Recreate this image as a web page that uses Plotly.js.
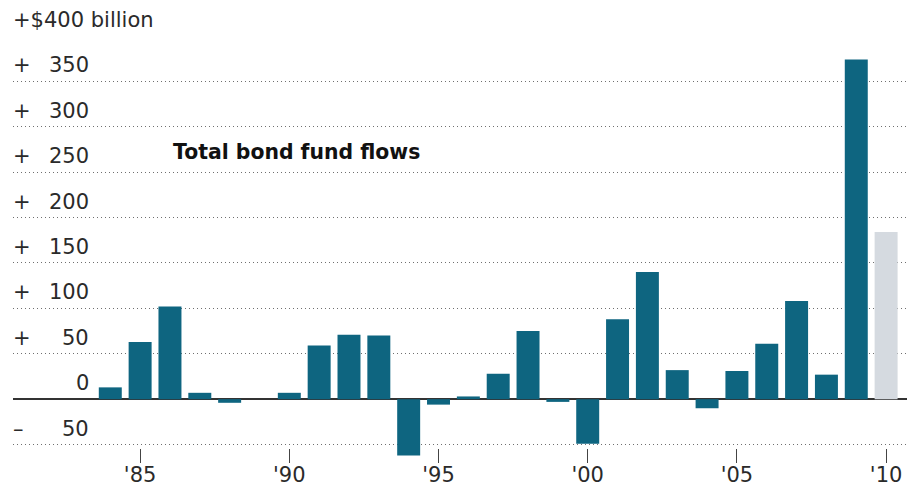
<!DOCTYPE html>
<html>
<head>
<meta charset="utf-8">
<script src="https://cdn.plot.ly/plotly-3.0.1.min.js"></script>
<style>
  html, body { margin: 0; padding: 0; background: #ffffff; }
  #chart { width: 907px; height: 488px; }
</style>
</head>
<body>
<div id="chart"></div>
<script>
// ---- Data ----
var years = [1984, 1985, 1986, 1987, 1988, 1989, 1990, 1991, 1992, 1993, 1994, 1995, 1996, 1997,
             1998, 1999, 2000, 2001, 2002, 2003, 2004, 2005, 2006, 2007, 2008, 2009, 2010];
var flows = [13, 63, 102, 7, -4, 0, 7, 59, 71, 70, -62, -6, 3, 28,
             75, -3, -49, 88, 140, 32, -10, 31, 61, 108, 27, 374, 184];
var partialYear = 2010;

var xTickVals = [1985, 1990, 1995, 2000, 2005, 2010];
var xTickText = ["'85", "'90", "'95", "'00", "'05", "'10"];

var yTickVals = [-50, 0, 50, 100, 150, 200, 250, 300, 350, 400];
var yTickText = ["50", "0", "50", "100", "150", "200", "250", "300", "350", "+$400 billion"];
var chartLabel = "Total bond fund flows";

// ---- Styles ----
var barColor = "#0e6580";
var partialColor = "#d5dae0";
var textColor = "#2a2a2a";
var fontFamily = "DejaVu Sans, Verdana, sans-serif";
var labelSize = 21;

var colors = years.map(function (y) { return y === partialYear ? partialColor : barColor; });

var W = 907, H = 488, L = 13, R = 0, T = 36, B = 28;
var plotW = W - L - R;
var plotH = H - T - B;
var yMin = -67, yMax = 400;
var numX = (91 - L) / plotW;
var xAxisAt = -54;   // value where the x tick marks start
var xAxisPos = (xAxisAt - yMin) / (yMax - yMin);

var annotations = [];
var topVal = yTickVals[yTickVals.length - 1];
yTickVals.forEach(function (v, i) {
  if (v === topVal) {
    annotations.push({
      xref: "paper", yref: "y", x: 0, y: v, xanchor: "left", yanchor: "bottom",
      xshift: -2, yshift: 2, showarrow: false, text: yTickText[i],
      font: { family: fontFamily, size: labelSize, color: textColor }
    });
    return;
  }
  var sign = v > 0 ? "+" : (v < 0 ? "\u2013" : "");
  if (sign) {
    annotations.push({
      xref: "paper", yref: "y", x: 0, y: v, xanchor: "left", yanchor: "bottom",
      xshift: -2, yshift: 2, showarrow: false, text: sign,
      font: { family: fontFamily, size: labelSize, color: textColor }
    });
  }
  annotations.push({
    xref: "paper", yref: "y", x: numX, y: v, xanchor: "right", yanchor: "bottom",
    yshift: 2, showarrow: false, text: yTickText[i],
    font: { family: fontFamily, size: labelSize, color: textColor }
  });
});
annotations.push({
  xref: "paper", yref: "y", x: (296 - L) / plotW, y: 272,
  xanchor: "center", yanchor: "middle", showarrow: false,
  text: "<b>" + chartLabel + "</b>",
  font: { family: fontFamily, size: 20.4, color: "#111111" }
});

var trace = {
  type: "bar",
  x: years,
  y: flows,
  width: 0.77,
  marker: { color: colors, line: { width: 0 } },
  hoverinfo: "x+y"
};

var layout = {
  width: W,
  height: H,
  margin: { l: L, r: R, t: T, b: B, pad: 0 },
  paper_bgcolor: "#ffffff",
  plot_bgcolor: "#ffffff",
  showlegend: false,
  xaxis: {
    range: [1980.74, 2010.70],
    anchor: "free",
    position: xAxisPos,
    tickmode: "array",
    tickvals: xTickVals,
    ticktext: xTickText,
    ticks: "outside",
    ticklen: 14,
    tickwidth: 1,
    tickcolor: "#444444",
    ticklabelstandoff: -6,
    showgrid: false,
    zeroline: false,
    showline: false,
    tickfont: { family: fontFamily, size: labelSize, color: textColor },
    fixedrange: true
  },
  yaxis: {
    range: [yMin, yMax],
    tickmode: "array",
    tickvals: yTickVals,
    showticklabels: false,
    ticks: "",
    showgrid: true,
    gridcolor: "#6f6f6f",
    gridwidth: 1,
    griddash: "1px,3px",
    zeroline: true,
    zerolinecolor: "#333333",
    zerolinewidth: 1.5,
    showline: false,
    fixedrange: true
  },
  annotations: annotations
};

Plotly.newPlot("chart", [trace], layout, { displayModeBar: false, staticPlot: true });
</script>
</body>
</html>
